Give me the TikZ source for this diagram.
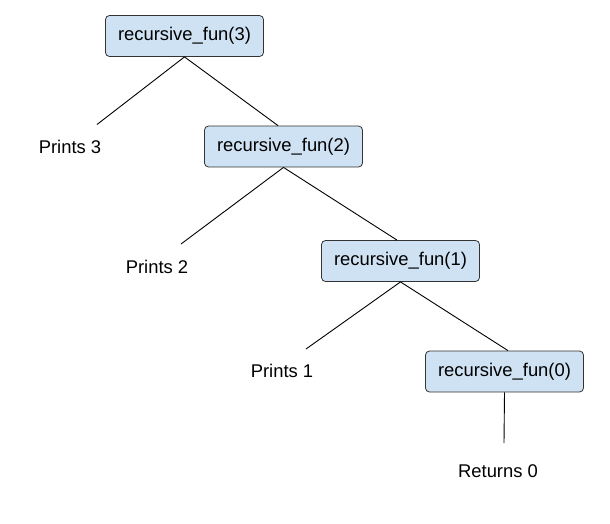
\documentclass[tikz,border=0pt]{standalone}
\usepackage{fontspec}
\setmainfont{Liberation Sans}
\definecolor{boxfill}{HTML}{CFE2F3}
\definecolor{boxline}{HTML}{333333}
\begin{document}
\begin{tikzpicture}[x=1pt,y=-1pt,
  callbox/.style={draw=boxline,fill=boxfill,rounded corners=4pt,line width=0.8pt,
    minimum width=158pt,minimum height=41pt,inner sep=0pt,font=\fontsize{18.4}{20}\selectfont},
  leaf/.style={inner sep=0pt,font=\fontsize{18.4}{20}\selectfont},
  edge/.style={draw=black,line width=0.9pt}]
\useasboundingbox (0,0) rectangle (610,523);
\node[callbox] (r3) at (184.5,36) {recursive\_fun(3)};
\node[callbox] (r2) at (283.5,146.5) {recursive\_fun(2)};
\node[callbox] (r1) at (400.5,261) {recursive\_fun(1)};
\node[callbox] (r0) at (504.5,371.5) {recursive\_fun(0)};
\node[leaf] (p3) at (70,147) {Prints 3};
\node[leaf] (p2) at (157,267) {Prints 2};
\node[leaf] (p1) at (282,371) {Prints 1};
\node[leaf] (ret) at (498,471) {Returns 0};
\coordinate (e3) at (97,124.5);
\coordinate (e2) at (181,244);
\coordinate (e1) at (306,349);
\coordinate (e0) at (504,443);
\draw[edge] (r3.south) -- (e3);
\draw[edge] (r3.south) -- ([xshift=-5.5pt]r2.north);
\draw[edge] (r2.south) -- (e2);
\draw[edge] (r2.south) -- ([xshift=-3.5pt]r1.north);
\draw[edge] (r1.south) -- (e1);
\draw[edge] (r1.south) -- ([xshift=3.5pt]r0.north);
\draw[edge] (r0.south) -- (e0);
\end{tikzpicture}
\end{document}
